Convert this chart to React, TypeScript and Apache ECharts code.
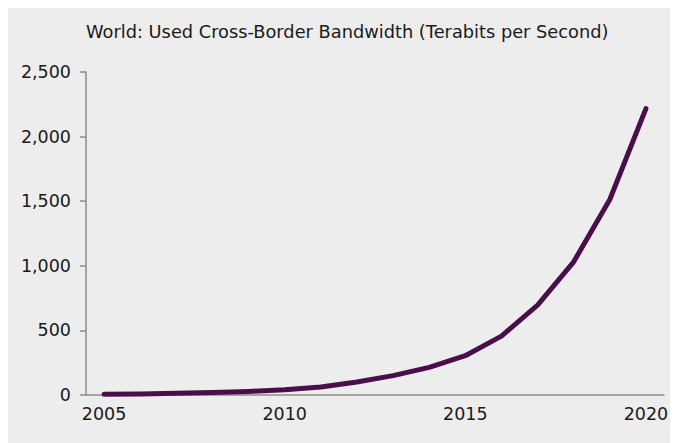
import React, { useEffect, useRef } from "react";
import * as echarts from "echarts";

const years = ["2005","2006","2007","2008","2009","2010","2011","2012","2013","2014","2015","2016","2017","2018","2019","2020"];
const bandwidth = [5, 8, 13, 20, 28, 40, 62, 100, 150, 214, 304, 456, 696, 1031, 1513, 2217];
const titleText = "World: Used Cross-Border Bandwidth (Terabits per Second)";

export default function App() {
  const ref = useRef<HTMLDivElement>(null);
  useEffect(() => {
    if (!ref.current) return;
    const chart = echarts.init(ref.current, null, { renderer: "svg" });
    const font = "DejaVu Sans";
    chart.setOption({
      animation: false,
      backgroundColor: "#ededed",
      title: {
        text: titleText,
        left: 73,
        top: 9,
        textStyle: { fontFamily: font, fontSize: 17.8, fontWeight: "normal", color: "#1a1a1a" },
      },
      grid: { left: 78, right: 22, top: 64, bottom: 48, containLabel: false },
      xAxis: {
        type: "category",
        data: years,
        boundaryGap: true,
        axisLine: { lineStyle: { color: "#8c8c8c", width: 1.5 } },
        axisTick: { interval: 4, length: 6, lineStyle: { color: "#8c8c8c", width: 1.5 } },
        axisLabel: { interval: 4, margin: 10, fontFamily: font, fontSize: 17.5, color: "#1a1a1a" },
        splitLine: { show: false },
      },
      yAxis: {
        type: "value",
        min: 0,
        max: 2500,
        interval: 500,
        axisLine: { show: true, lineStyle: { color: "#8c8c8c", width: 1.5 } },
        axisTick: { show: true, length: 6, lineStyle: { color: "#8c8c8c", width: 1.5 } },
        axisLabel: {
          margin: 15,
          fontFamily: font,
          fontSize: 17.5,
          color: "#1a1a1a",
          formatter: (v: number) => v.toLocaleString("en-US"),
        },
        splitLine: { show: false },
      },
      series: [
        {
          type: "line",
          data: bandwidth,
          showSymbol: false,
          symbol: "none",
          lineStyle: { color: "#4a0f4b", width: 5, cap: "round", join: "round" },
        },
      ],
    });
    return () => chart.dispose();
  }, []);
  return <div ref={ref} style={{ width: 678, height: 435 }} />;
}
